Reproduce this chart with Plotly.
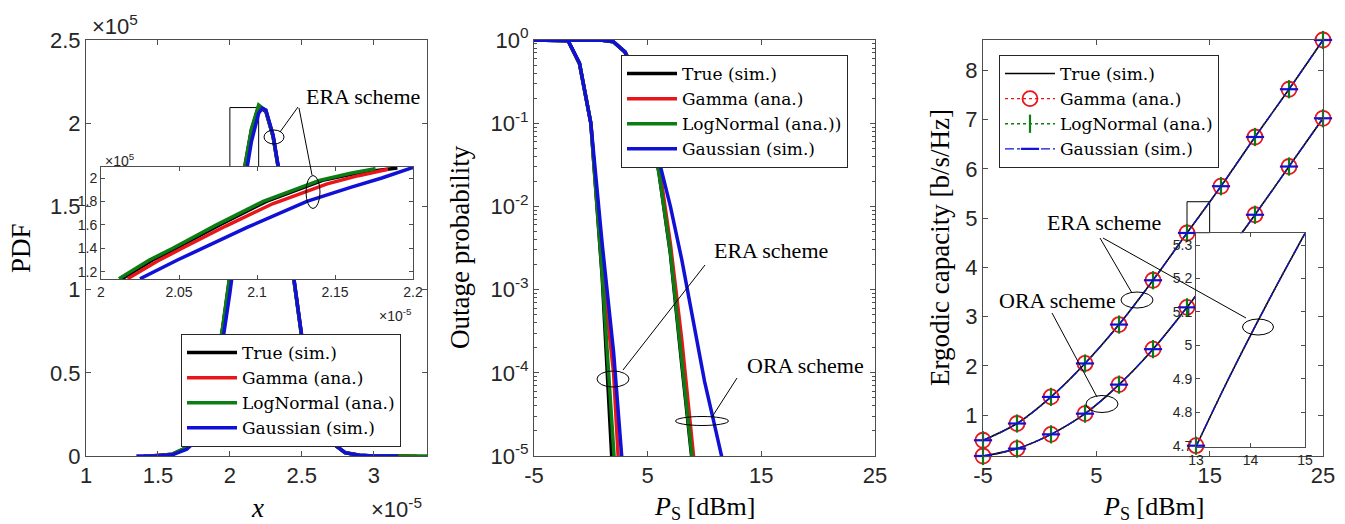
import plotly.graph_objects as go

# ---------------- data ----------------
# Panel 1: PDF (x in units of 1e-5, PDF in units of 1e5)
pdf_true_x = [1.45, 1.5, 1.6, 1.7, 1.75, 1.8, 1.85, 1.9, 1.95, 2.0, 2.05, 2.1, 2.15, 2.2, 2.25, 2.3, 2.35, 2.4, 2.45, 2.5, 2.55, 2.6, 2.65, 2.7, 2.8, 2.9, 3.0, 3.25]
pdf_true_y = [0.0, 0.002, 0.01, 0.05, 0.10, 0.18, 0.32, 0.51, 0.77, 1.08, 1.41, 1.72, 1.96, 2.10, 2.07, 1.92, 1.66, 1.34, 1.01, 0.71, 0.47, 0.28, 0.16, 0.086, 0.02, 0.004, 0.0005, 0.0]
pdf_gamma_x = [1.45, 1.5, 1.6, 1.7, 1.75, 1.8, 1.85, 1.9, 1.95, 2.0, 2.05, 2.1, 2.15, 2.2, 2.25, 2.3, 2.35, 2.4, 2.45, 2.5, 2.55, 2.6, 2.65, 2.7, 2.8, 2.9, 3.0, 3.3]
pdf_gamma_y = [0.0, 0.002, 0.011, 0.048, 0.097, 0.177, 0.315, 0.505, 0.76, 1.07, 1.40, 1.71, 1.955, 2.10, 2.075, 1.925, 1.665, 1.345, 1.015, 0.715, 0.47, 0.285, 0.16, 0.087, 0.021, 0.004, 0.0006, 0.0]
pdf_lognormal_x = [1.4, 1.5, 1.6, 1.7, 1.75, 1.8, 1.85, 1.9, 1.95, 2.0, 2.05, 2.1, 2.15, 2.2, 2.25, 2.3, 2.35, 2.4, 2.45, 2.5, 2.55, 2.6, 2.65, 2.7, 2.8, 2.9, 3.0, 3.37]
pdf_lognormal_y = [0.0, 0.002, 0.011, 0.052, 0.102, 0.184, 0.322, 0.515, 0.775, 1.085, 1.415, 1.725, 1.965, 2.11, 2.075, 1.92, 1.66, 1.34, 1.01, 0.71, 0.47, 0.28, 0.16, 0.086, 0.02, 0.004, 0.0005, 0.0]
pdf_gauss_x = [1.35, 1.5, 1.6, 1.7, 1.75, 1.8, 1.85, 1.9, 1.95, 2.0, 2.05, 2.1, 2.15, 2.2, 2.225, 2.25, 2.3, 2.35, 2.4, 2.45, 2.5, 2.55, 2.6, 2.65, 2.7, 2.8, 2.9, 3.0, 3.17]
pdf_gauss_y = [0.0, 0.001, 0.007, 0.04, 0.08, 0.15, 0.27, 0.45, 0.69, 0.98, 1.31, 1.63, 1.89, 2.06, 2.09, 2.08, 1.93, 1.67, 1.35, 1.02, 0.72, 0.47, 0.28, 0.16, 0.085, 0.02, 0.004, 0.0005, 0.0]

# Panel 1 inset (zoom near the peak)
ins1_true_x = [2.0135, 2.033, 2.048, 2.076, 2.106, 2.142, 2.165, 2.19]
ins1_true_y = [1.14, 1.30, 1.40, 1.60, 1.80, 1.98, 2.045, 2.085]
ins1_gamma_x = [2.017, 2.036, 2.052, 2.08, 2.11, 2.145, 2.165, 2.184]
ins1_gamma_y = [1.14, 1.29, 1.40, 1.59, 1.78, 1.95, 2.02, 2.075]
ins1_lognormal_x = [2.0115, 2.031, 2.046, 2.074, 2.104, 2.14, 2.16, 2.176]
ins1_lognormal_y = [1.14, 1.30, 1.40, 1.60, 1.80, 1.98, 2.04, 2.08]
ins1_gauss_x = [2.025, 2.049, 2.094, 2.132, 2.16, 2.18, 2.2]
ins1_gauss_y = [1.14, 1.30, 1.58, 1.80, 1.92, 2.0, 2.09]

# Panel 2: outage probability vs P_S [dBm]
era_x = [-5, -4, -3, -2, -1, 0, 1, 2, 3]
era_true = [1, 1, 1, 0.98, 0.52, 0.1, 1.41e-3, 3.16e-6, 1e-8]
era_gamma = [1, 1, 1, 0.98, 0.52, 0.1, 1.78e-3, 1.0e-4, 3.2e-7]
era_lognormal = [1, 1, 1, 0.98, 0.52, 0.1, 1.51e-3, 1.17e-5, 1e-7]
era_gauss = [1, 1, 1, 0.98, 0.53, 0.1, 3.55e-3, 1.78e-4, 3.16e-6]

ora_x = [-5, -4, -3, -2, -1, 0, 1, 2, 3, 4, 5, 6, 7, 8, 9, 10, 11, 12]
ora_true = [1, 1, 1, 1, 1, 1, 0.995, 0.95, 0.72, 0.38, 0.13, 0.0251, 2.69e-3, 1.26e-4, 3.98e-6, 1e-7, 1e-8, 1e-9]
ora_gamma = [1, 1, 1, 1, 1, 1, 0.995, 0.95, 0.72, 0.38, 0.13, 0.0316, 3.55e-3, 2.51e-4, 1.26e-5, 5e-7, 1e-8, 1e-9]
ora_lognormal = [1, 1, 1, 1, 1, 1, 0.995, 0.95, 0.72, 0.38, 0.13, 0.0251, 2.82e-3, 1.41e-4, 4.47e-6, 1e-7, 1e-8, 1e-9]
ora_gauss = [1, 1, 1, 1, 1, 1, 0.995, 0.95, 0.72, 0.38, 0.13, 0.0355, 0.01, 2.29e-3, 4.47e-4, 7.94e-5, 2.0e-5, 5.0e-6]

# Panel 3: ergodic capacity vs P_S [dBm]
cap_x = [-5, -2, 1, 4, 7, 10, 13, 16, 19, 22, 25]
cap_era = [0.49, 0.83, 1.37, 2.05, 2.84, 3.74, 4.70, 5.65, 6.65, 7.62, 8.62]
cap_ora = [0.17, 0.32, 0.61, 1.03, 1.62, 2.34, 3.19, 4.12, 5.07, 6.05, 7.03]
# Panel 3 inset (ERA simulated curve, 13..15 dBm)
ins3_x = [13, 13.5, 14, 14.5, 15]
ins3_era = [4.697, 4.868, 5.03, 5.185, 5.335]

series_names = ["True (sim.)", "Gamma (ana.)", "LogNormal (ana.)", "Gaussian (sim.)"]
series_names_outage = ["True (sim.)", "Gamma (ana.)", "LogNormal (ana.))", "Gaussian (sim.)"]
colors = ["#000000", "#e8161b", "#0b7d12", "#1010d6"]

# tick labels
pdf_xticks = [1, 1.5, 2, 2.5, 3]
pdf_xticktext = ["1", "1.5", "2", "2.5", "3"]
pdf_yticks = [0, 0.5, 1, 1.5, 2, 2.5]
pdf_yticktext = ["0", "0.5", "1", "1.5", "2", "2.5"]
ins1_xticks = [2, 2.05, 2.1, 2.15, 2.2]
ins1_xticktext = ["2", "2.05", "2.1", "2.15", "2.2"]
ins1_yticks = [1.2, 1.4, 1.6, 1.8, 2.0]
ins1_yticktext = ["1.2", "1.4", "1.6", "1.8", "2"]
ps_ticks = [-5, 5, 15, 25]
ps_ticktext = ["-5", "5", "15", "25"]
out_yticks = [1e-5, 1e-4, 1e-3, 1e-2, 1e-1, 1]
out_yticktext = ["10<sup>-5</sup>", "10<sup>-4</sup>", "10<sup>-3</sup>", "10<sup>-2</sup>", "10<sup>-1</sup>", "10<sup>0</sup>"]
cap_yticks = [1, 2, 3, 4, 5, 6, 7, 8]
ins3_xticks = [13, 14, 15]
ins3_yticks = [4.7, 4.8, 4.9, 5.0, 5.1, 5.2, 5.3]
ins3_yticktext = ["4.7", "4.8", "4.9", "5", "5.1", "5.2", "5.3"]

# ---------------- layout helpers ----------------
W, H = 1345, 524
def px(x):
    return x / W
def py(y):
    return 1 - y / H

SANS = "Liberation Sans"
SERIF = "Liberation Serif"
AXC = "#4d4d4d"
TXC = "#262626"

def axis(domain, rng, tickvals, ticktext, size=22, ticklen=5, **kw):
    d = dict(domain=domain, range=rng, tickvals=tickvals, ticktext=ticktext,
             showline=True, linecolor=AXC, linewidth=1, mirror="ticks",
             ticks="inside", ticklen=ticklen, tickcolor=AXC, tickwidth=1,
             showgrid=False, zeroline=False, automargin=False,
             tickfont=dict(family=SANS, size=size, color=TXC))
    d.update(kw)
    return d

fig = go.Figure()

# ---------- Panel 1 main ----------
pdf_sets = [(pdf_true_x, pdf_true_y), (pdf_gamma_x, pdf_gamma_y),
            (pdf_lognormal_x, pdf_lognormal_y), (pdf_gauss_x, pdf_gauss_y)]
for (xs, ys), name, c in zip(pdf_sets, series_names, colors):
    fig.add_trace(go.Scatter(x=xs, y=ys, mode="lines", name=name,
                             line=dict(color=c, width=3.5),
                             xaxis="x", yaxis="y", legend="legend"))

# ---------- Panel 1 inset ----------
ins1_sets = [(ins1_true_x, ins1_true_y), (ins1_gamma_x, ins1_gamma_y),
             (ins1_lognormal_x, ins1_lognormal_y), (ins1_gauss_x, ins1_gauss_y)]
for (xs, ys), name, c in zip(ins1_sets, series_names, colors):
    fig.add_trace(go.Scatter(x=xs, y=ys, mode="lines", name=name, showlegend=False,
                             line=dict(color=c, width=3.5),
                             xaxis="x4", yaxis="y4"))

# ---------- Panel 2 ----------
for era, ora, name, c in zip([era_true, era_gamma, era_lognormal, era_gauss],
                             [ora_true, ora_gamma, ora_lognormal, ora_gauss],
                             series_names_outage, colors):
    fig.add_trace(go.Scatter(x=era_x, y=era, mode="lines", name=name,
                             legendgroup="o" + name, line=dict(color=c, width=3.5),
                             xaxis="x2", yaxis="y2", legend="legend2"))
    fig.add_trace(go.Scatter(x=ora_x, y=ora, mode="lines", name=name, showlegend=False,
                             legendgroup="o" + name, line=dict(color=c, width=3.5),
                             xaxis="x2", yaxis="y2", legend="legend2"))

# ---------- Panel 3 ----------
cap_lines = [
    dict(color=colors[0], width=1.6, shape="spline"),
    dict(color=colors[1], width=1.3, dash="dot", shape="spline"),
    dict(color=colors[2], width=1.3, dash="dot", shape="spline"),
    dict(color=colors[3], width=1.3, dash="dashdot", shape="spline"),
]
cap_markers = [
    None,
    dict(symbol="circle-open", size=15, color=colors[1], line=dict(width=1.8, color=colors[1])),
    dict(symbol="line-ns-open", size=13, color=colors[2], line=dict(width=2.2, color=colors[2])),
    dict(symbol="line-ew-open", size=13, color=colors[3], line=dict(width=2.2, color=colors[3])),
]
def sty(i):
    if cap_markers[i] is None:
        return dict(mode="lines", line=cap_lines[i])
    return dict(mode="lines+markers", line=cap_lines[i], marker=cap_markers[i])

for i, name in enumerate(series_names):
    fig.add_trace(go.Scatter(x=cap_x, y=cap_era, name=name, legendgroup="c" + name,
                             xaxis="x3", yaxis="y3", legend="legend3", cliponaxis=False, **sty(i)))
    fig.add_trace(go.Scatter(x=cap_x, y=cap_ora, name=name, legendgroup="c" + name, showlegend=False,
                             xaxis="x3", yaxis="y3", legend="legend3", cliponaxis=False, **sty(i)))

# inset of panel 3: curve + the markers of the data points lying inside the zoom window
ins3_xr = [13, 15]
ins3_yr = [4.697, 5.335]
in_pts = [(x, y) for x, y in zip(cap_x, cap_era) if ins3_xr[0] <= x <= ins3_xr[1]]
for i, name in enumerate(series_names):
    fig.add_trace(go.Scatter(x=ins3_x, y=ins3_era, name=name, showlegend=False, mode="lines",
                             line=cap_lines[i], xaxis="x5", yaxis="y5"))
for i, name in enumerate(series_names):
    if cap_markers[i] is None:
        continue
    fig.add_trace(go.Scatter(x=[p[0] for p in in_pts], y=[p[1] for p in in_pts], name=name,
                             showlegend=False, mode="markers", marker=cap_markers[i],
                             xaxis="x5", yaxis="y5", cliponaxis=False))

# ---------------- axes ----------------
ydom = [py(456), py(40)]
ins1_xr = [2.0, 2.2]
ins1_yr = [1.138, 2.094]

fig.update_layout(
    xaxis=axis([px(86), px(427)], [1, 3.37], pdf_xticks, pdf_xticktext, anchor="y"),
    yaxis=axis(ydom, [0, 2.5], pdf_yticks, pdf_yticktext, anchor="x"),
    xaxis2=axis([px(534), px(875)], [-5, 25], ps_ticks, ps_ticktext, anchor="y2"),
    yaxis2=axis(ydom, [-5, 0], out_yticks, out_yticktext, anchor="x2", type="log",
                minor=dict(ticks="inside", ticklen=3, tickcolor=AXC, dtick="D1", showgrid=False)),
    xaxis3=axis([px(983), px(1323)], [-5, 25], ps_ticks, ps_ticktext, anchor="y3"),
    yaxis3=axis(ydom, [0.17, 8.62], cap_yticks, [str(v) for v in cap_yticks], anchor="x3"),
    xaxis4=axis([px(101), px(413)], ins1_xr, ins1_xticks, ins1_xticktext, size=14, ticklen=4, anchor="y4"),
    yaxis4=axis([py(279), py(167)], ins1_yr, ins1_yticks, ins1_yticktext, size=14, ticklen=4, anchor="x4"),
    xaxis5=axis([px(1196), px(1305)], ins3_xr, ins3_xticks, [str(v) for v in ins3_xticks], size=14, ticklen=4, anchor="y5"),
    yaxis5=axis([py(446.7), py(233.3)], ins3_yr, ins3_yticks, ins3_yticktext, size=14, ticklen=4, anchor="x5"),
)

leg_common = dict(xanchor="left", yanchor="top", bgcolor="white", bordercolor=TXC, borderwidth=1,
                  font=dict(family="DejaVu Serif", size=17, color="black"), itemwidth=50,
                  tracegroupgap=0, traceorder="normal")
fig.update_layout(
    legend=dict(x=px(181), y=py(334), **leg_common),
    legend2=dict(x=px(621), y=py(55), **leg_common),
    legend3=dict(x=px(999), y=py(55), **leg_common),
)

# ---------------- annotations ----------------
ann = []
def text(x, y, t, size=22, family=SERIF, angle=0, color="black"):
    ann.append(dict(x=px(x), y=py(y), xref="paper", yref="paper", text=t, showarrow=False,
                    xanchor="center", yanchor="middle", textangle=angle,
                    font=dict(family=family, size=size, color=color)))

text(21, 248, "PDF", size=27, angle=-90)
text(460, 247, "Outage probability", size=27, angle=-90)
text(940, 248, "Ergodic capacity [b/s/Hz]", size=27, angle=-90)
text(257, 508, "<i>x</i>", size=27)
text(704, 508, "<i>P</i><sub>S</sub> [dBm]", size=26)
text(1153, 508, "<i>P</i><sub>S</sub> [dBm]", size=26)
text(115, 25, "×10<sup>5</sup>", size=22, family=SANS, color=TXC)
text(396, 508, "×10<sup>-5</sup>", size=22, family=SANS, color=TXC)
text(120, 160, "×10<sup>5</sup>", size=14, family=SANS, color=TXC)
text(395, 315, "×10<sup>-5</sup>", size=14, family=SANS, color=TXC)
text(363, 97, "ERA scheme")
text(771, 250, "ERA scheme")
text(805, 365, "ORA scheme")
text(1104, 222, "ERA scheme")
text(1057, 300, "ORA scheme")

shapes = []
def line(x0, y0, x1, y1):
    shapes.append(dict(type="line", xref="paper", yref="paper", x0=px(x0), y0=py(y0),
                       x1=px(x1), y1=py(y1), line=dict(color="black", width=1), layer="above"))
def ellipse(cx, cy, w, h):
    shapes.append(dict(type="circle", xref="paper", yref="paper", x0=px(cx - w / 2), x1=px(cx + w / 2),
                       y0=py(cy + h / 2), y1=py(cy - h / 2), line=dict(color="black", width=1), layer="above"))

# panel 1
line(298, 107, 280, 132); ellipse(274, 137, 20, 14)
line(299, 108, 312, 175); ellipse(313, 192, 14, 33)
# panel 2
line(705, 265, 623, 370); ellipse(613, 379, 32, 16)
line(737, 378, 712, 417); ellipse(702, 421, 53, 9)
# panel 3
line(1100, 238, 1132, 293); ellipse(1137, 300, 32, 16)
line(1103, 238, 1246, 318); ellipse(1258, 327, 31, 16)
line(1052, 313, 1097, 397); ellipse(1102, 404, 32, 17)

# zoom rectangles (data coords of the main axes = inset ranges)
shapes.append(dict(type="rect", xref="x", yref="y", x0=ins1_xr[0], x1=ins1_xr[1], y0=ins1_yr[0], y1=ins1_yr[1],
                   line=dict(color="black", width=1), layer="below"))
shapes.append(dict(type="rect", xref="x3", yref="y3", x0=ins3_xr[0], x1=ins3_xr[1], y0=ins3_yr[0], y1=ins3_yr[1],
                   line=dict(color="black", width=1), layer="below"))

fig.update_layout(annotations=ann, shapes=shapes, width=W, height=H,
                  margin=dict(l=0, r=0, t=0, b=0), paper_bgcolor="white", plot_bgcolor="white",
                  showlegend=True)

fig.write_html("out.html", config={"displayModeBar": False},
               post_script="document.body.style.margin='0';document.body.style.overflow='hidden';")
